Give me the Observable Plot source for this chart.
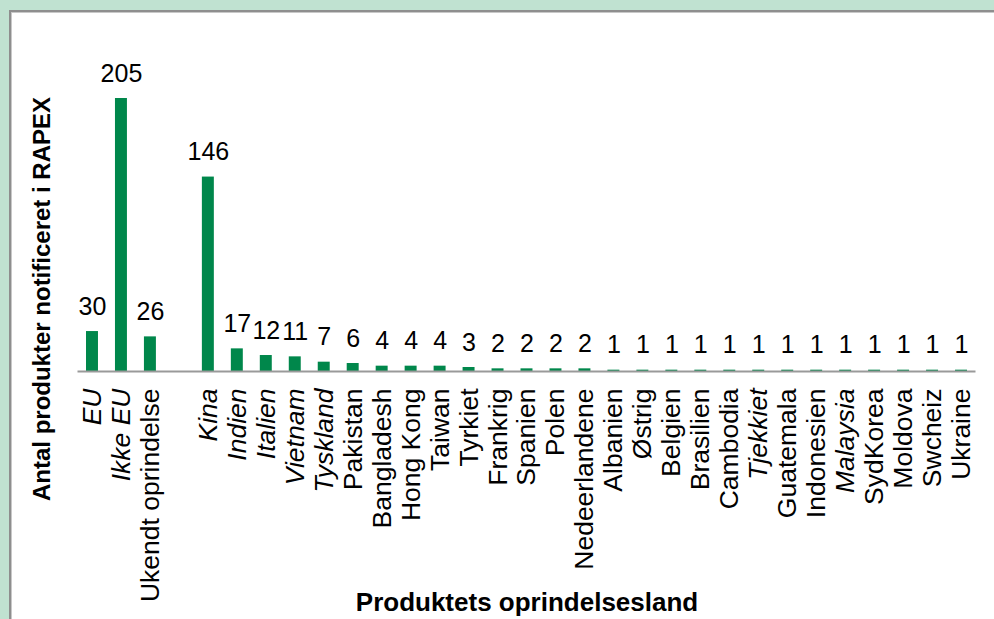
<!DOCTYPE html>
<html>
<head>
<meta charset="utf-8">
<script src="https://cdn.jsdelivr.net/npm/d3@7"></script>
<script src="https://cdn.jsdelivr.net/npm/@observablehq/plot@0.6"></script>
<style>
  html, body { margin: 0; padding: 0; }
  body { width: 994px; height: 619px; background: #c0e2d1; position: relative; overflow: hidden; font-family: "Liberation Sans", Arial, sans-serif; }
  #panel { position: absolute; left: 9px; top: 10px; width: 1000px; height: 620px; background: #ffffff;
           border-left: 2px solid #8e8e8e; border-top: 2px solid #8e8e8e; box-shadow: inset 1px 1px 0 #c8c8c8; }
  #chart { position: absolute; left: 0; top: 0; }
</style>
</head>
<body>
<div id="panel"></div>
<div id="chart"></div>
<script>
const categories = ["EU", "Ikke EU", "Ukendt oprindelse", " ", "Kina", "Indien", "Italien", "Vietnam", "Tyskland",
  "Pakistan", "Bangladesh", "Hong Kong", "Taiwan", "Tyrkiet", "Frankrig", "Spanien", "Polen", "Nedeerlandene",
  "Albanien", "Østrig", "Belgien", "Brasilien", "Cambodia", "Tjekkiet", "Guatemala", "Indonesien", "Malaysia",
  "SydKorea", "Moldova", "Swcheiz", "Ukraine"];
const values = [30, 205, 26, null, 146, 17, 12, 11, 7, 6, 4, 4, 4, 3, 2, 2, 2, 2,
  1, 1, 1, 1, 1, 1, 1, 1, 1, 1, 1, 1, 1];
const italicLabels = ["EU", "Ikke EU", "Kina", "Indien", "Italien", "Vietnam", "Tyskland", "Tjekkiet", "Malaysia"];
const yTitle = "Antal produkter notificeret i RAPEX";
const xTitle = "Produktets oprindelsesland";

const rows = categories.map((c, i) => ({cat: c, value: values[i]})).filter(d => d.value != null);
const tickCats = categories.filter(c => c.trim() !== "");
const italicTicks = tickCats.filter(c => italicLabels.includes(c));
const normalTicks = tickCats.filter(c => !italicLabels.includes(c));

const green = "#00874b";

const chart = Plot.plot({
  width: 994,
  height: 619,
  marginTop: 98,
  marginBottom: 248,
  marginLeft: 77.5,
  marginRight: 18.5,
  style: {background: "transparent", fontFamily: "'Liberation Sans', Arial, sans-serif", overflow: "visible", color: "#000"},
  x: {domain: categories, padding: 0, label: null, axis: null},
  y: {domain: [0, 205], axis: null, label: null},
  marks: [
    Plot.barY(rows, {x: "cat", y: "value", fill: green, insetLeft: 8.5, insetRight: 8.5}),
    Plot.ruleY([0], {stroke: "#9a9a9a", strokeWidth: 2}),
    Plot.text(rows, {x: "cat", y: "value", text: d => String(d.value), lineAnchor: "bottom", dy: -17, fontSize: 25, fill: "#000"}),
    Plot.axisX({ticks: normalTicks, tickSize: 0, tickPadding: 17, tickRotate: -90, fontSize: 26.5, label: null, fill: "#000"}),
    Plot.axisX({ticks: italicTicks, tickSize: 0, tickPadding: 17, tickRotate: -90, fontSize: 26.5, fontStyle: "italic", label: null, fill: "#000"}),
    Plot.text([yTitle], {frameAnchor: "left", rotate: -90, textAnchor: "middle", lineAnchor: "middle", dx: -35.5, dy: 64, fontSize: 24, fontWeight: "bold", fill: "#000"}),
    Plot.text([xTitle], {frameAnchor: "bottom", textAnchor: "middle", lineAnchor: "middle", dy: 231, fontSize: 26, fontWeight: "bold", fill: "#000"})
  ]
});
document.getElementById("chart").appendChild(chart);
</script>
</body>
</html>
